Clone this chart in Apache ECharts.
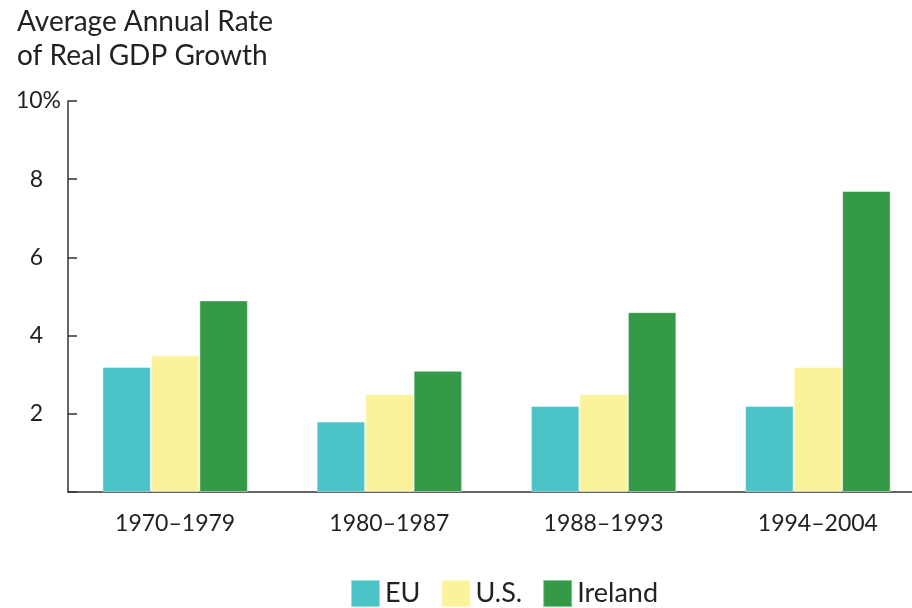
<!DOCTYPE html>
<html>
<head>
<meta charset="utf-8">
<script src="https://cdn.jsdelivr.net/npm/echarts@6/dist/echarts.min.js"></script>
<style>
  html, body { margin: 0; padding: 0; background: #fff; }
  #chart { width: 912px; height: 608px; }
</style>
</head>
<body>
<div id="chart"></div>
<script>
// periods on the x axis
const periods = ['1970–1979', '1980–1987', '1988–1993', '1994–2004'];
// average annual real GDP growth, %
const euGrowth = [3.2, 1.8, 2.2, 2.2];
const usGrowth = [3.5, 2.5, 2.5, 3.2];
const irelandGrowth = [4.9, 3.1, 4.6, 7.7];
const yTicks = [2, 4, 6, 8, 10];

const chart = echarts.init(document.getElementById('chart'));
const font = 'Lato, "Open Sans", sans-serif';

function bar(name, data, color) {
    return {
        name: name,
        type: 'bar',
        data: data,
        barWidth: 48.5,
        barGap: 0,
        itemStyle: { color: color, borderColor: 'rgba(255,255,255,0.45)', borderWidth: 1 },
        emphasis: { disabled: true }
    };
}

const option = {
    animation: false,
    title: {
        text: 'Average Annual Rate\nof Real GDP Growth',
        left: 12,
        top: 0,
        textStyle: { fontFamily: font, fontSize: 28, fontWeight: 'normal', color: '#222', lineHeight: 34 }
    },
    legend: {
        top: 574,
        left: 345,
        itemWidth: 29,
        itemHeight: 27,
        itemGap: 20,
        icon: 'rect',
        textStyle: { fontFamily: font, fontSize: 27, color: '#222' },
        data: ['EU', 'U.S.', 'Ireland']
    },
    // the x axis runs on past the right edge of the picture
    grid: { left: 68, width: 857, top: 101, bottom: 116, outerBoundsMode: 'none', containLabel: false },
    xAxis: {
        type: 'category',
        data: periods,
        axisLine: { lineStyle: { color: '#333', width: 1.5 } },
        axisTick: { show: false },
        axisLabel: { fontFamily: font, fontSize: 23, color: '#222', margin: 20 }
    },
    yAxis: {
        type: 'value',
        min: 0,
        max: 10,
        interval: 2,
        splitLine: { show: false },
        axisLine: { show: true, lineStyle: { color: '#333', width: 1.5 } },
        axisTick: { show: true, inside: true, length: 9, lineStyle: { color: '#333', width: 1.5 } },
        axisLabel: {
            fontFamily: font,
            fontSize: 23,
            color: '#222',
            margin: 7,
            formatter: function (v) {
                if (yTicks.indexOf(v) < 0) return '';
                return v === 10 ? '10%' : v + '{s|}';
            },
            rich: { s: { width: 18 } }
        }
    },
    series: [
        bar('EU', euGrowth, '#4BC3C7'),
        bar('U.S.', usGrowth, '#FAF39C'),
        bar('Ireland', irelandGrowth, '#349A47')
    ]
};
chart.setOption(option);
</script>
</body>
</html>
